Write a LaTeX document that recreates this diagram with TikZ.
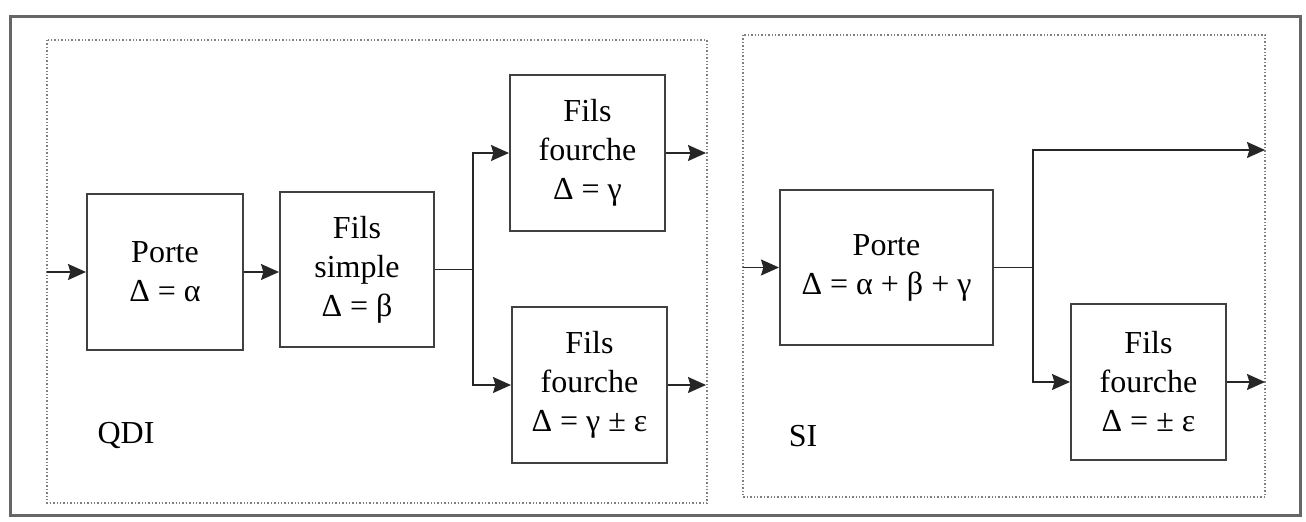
\documentclass[tikz,border=0pt]{standalone}
\usepackage{fontspec}
\setmainfont{Liberation Serif}
\newfontfamily\tmsfont{Liberation Serif}
\usetikzlibrary{arrows.meta}
\begin{document}
\begin{tikzpicture}[x=0.5pt,y=-0.5pt,
  blk/.style={draw=black!75,line width=1pt,fill=white,align=center,inner sep=0pt,
    font=\tmsfont\fontsize{16}{19.5}\selectfont},
  lbl/.style={font=\tmsfont\fontsize{16}{19.5}\selectfont,inner sep=0pt},
  arr/.style={draw=black!85,line width=0.75pt,-{Stealth[length=9pt,width=8pt,inset=1.2pt]}},
  wire/.style={draw=black!85,line width=0.75pt},
  zone/.style={draw=black!50,densely dotted,line width=0.7pt},
  frame/.style={draw=black!60,line width=1.5pt}]
\useasboundingbox (0,0) rectangle (1306,522);
\draw[frame] (10,17) rectangle (1300,516);
\draw[zone] (47,40) rectangle (707,503);
\draw[zone] (743,35) rectangle (1265,497);

\node[blk,minimum width=78pt,minimum height=78pt] (p1) at (165,272) {Porte\\Δ = α};
\node[blk,minimum width=77pt,minimum height=77.5pt] (fs) at (357,269.5) {Fils\\simple\\Δ = β};
\node[blk,minimum width=77.5pt,minimum height=78pt] (ft) at (587.5,153) {Fils\\fourche\\Δ = γ};
\node[blk,minimum width=77.5pt,minimum height=78pt] (fb) at (589.5,385) {Fils\\fourche\\Δ = γ ± ε};
\node[blk,minimum width=106.5pt,minimum height=77.5pt] (p2) at (886.5,267.5) {Porte\\Δ = α + β + γ};
\node[blk,minimum width=77.5pt,minimum height=78pt] (fr) at (1148.5,382) {Fils\\fourche\\Δ = ± ε};

\node[lbl] (qdi) at (126,436) {QDI};
\node[lbl] (si) at (803,436) {SI};

\coordinate (inL) at (47,272);
\coordinate (outL) at (706,0);
\coordinate (inR) at (743,267.5);
\coordinate (outR) at (1265,0);

\draw[arr] (inL) -- (p1.west);
\draw[arr] (p1.east) -- (p1.east -| fs.west);
\draw[wire] (fs.east) -- ++(38,0) coordinate (b1);
\draw[arr] (b1) |- (ft.west);
\draw[arr] (b1) |- (fb.west);
\draw[arr] (ft.east) -- (ft.east -| outL);
\draw[arr] (fb.east) -- (fb.east -| outL);

\draw[arr] (inR) -- (p2.west);
\draw[wire] (p2.east) -- ++(39,0) coordinate (b2);
\coordinate (topR) at (1265,150);
\draw[arr] (b2) |- (topR);
\draw[arr] (b2) |- (fr.west);
\draw[arr] (fr.east) -- (fr.east -| outR);
\end{tikzpicture}
\end{document}
